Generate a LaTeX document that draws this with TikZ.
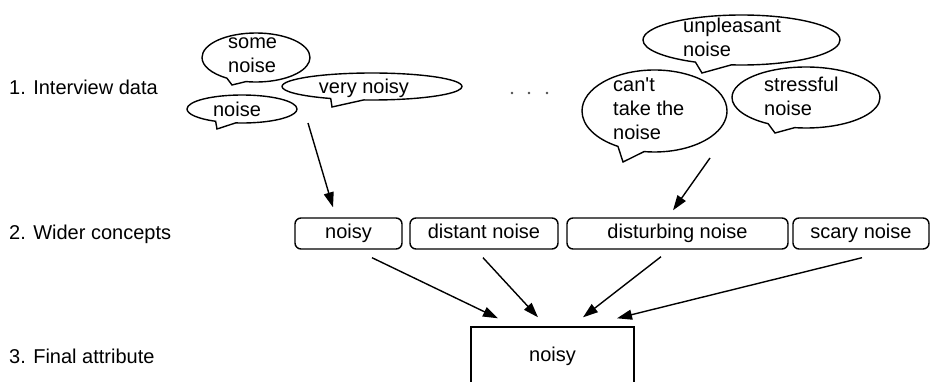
\documentclass[tikz,border=0pt]{standalone}
\usepackage{fontspec}
\setmainfont{Liberation Sans}
\usetikzlibrary{shapes.callouts,arrows.meta}
\begin{document}
\begin{tikzpicture}[x=1pt,y=-1pt,
  every node/.style={font=\fontsize{20}{24}\selectfont},
  bubble/.style={ellipse callout, draw, fill=white, line width=1.4pt, inner sep=0pt, callout pointer arc=22},
  txt/.style={inner sep=0pt, align=left},
  concept/.style={draw, rounded corners=6pt, line width=1.4pt, inner sep=0pt, minimum height=31pt, text height=14pt, text depth=4pt},
  finalbox/.style={draw, line width=1.4pt, inner sep=0pt, minimum width=163pt, minimum height=58pt},
  arr/.style={line width=1.4pt, -{Triangle[length=15pt,width=10pt]}},
  dotmark/.style={fill=black!70}]
\useasboundingbox (0,0) rectangle (931,382);
\clip (0,0) rectangle (931,382);

% level labels
\node[txt, anchor=west] (l1) at (9,87) {1. Interview data};
\node[txt, anchor=west] (l2) at (9,234) {2. Wider concepts};
\node[txt, anchor=west] (l3) at (9,356) {3. Final attribute};

% speech bubbles (left group)
\node[bubble, minimum width=108pt, minimum height=49pt, callout absolute pointer={(232,85)}] (bs) at (256,57.5) {};
\node[txt, anchor=west] (ts) at (228,55) {some\\noise};
\node[bubble, minimum width=180pt, minimum height=27pt, callout absolute pointer={(332,107)}] (bv) at (372,86.5) {};
\node[txt] (tv) at (364,88) {very noisy};
\node[bubble, minimum width=110pt, minimum height=28pt, callout absolute pointer={(217,129)}] (bn) at (242,109) {};
\node[txt] (tn) at (237,109) {noise};

% dots
\fill[dotmark] (512,93) circle (1.4);
\fill[dotmark] (529,93) circle (1.4);
\fill[dotmark] (547,93) circle (1.4);

% speech bubbles (right group)
\node[bubble, minimum width=197pt, minimum height=50pt, callout absolute pointer={(702,73)}] (bu) at (741.5,40) {};
\node[txt, anchor=west] (tu) at (683,37) {unpleasant\\noise};
\node[bubble, minimum width=145pt, minimum height=82pt, callout absolute pointer={(623,162)}] (bc) at (654.5,111) {};
\node[txt, anchor=west] (tc) at (613,109) {can\textquotesingle t\\take the\\noise};
\node[bubble, minimum width=148pt, minimum height=61pt, callout absolute pointer={(775,133)}] (bt) at (806,97.5) {};
\node[txt, anchor=west] (tt) at (764,96) {stressful\\noise};

% wider concepts
\node[concept, minimum width=107pt] (c1) at (348.5,233.5) {noisy};
\node[concept, minimum width=148pt] (c2) at (484,233.5) {distant noise};
\node[concept, minimum width=221pt] (c3) at (677.5,233.5) {disturbing noise};
\node[concept, minimum width=136pt] (c4) at (861,233.5) {scary noise};

% final attribute
\node[finalbox] (fin) at (552.5,356) {noisy};

% free starts of the upper arrows
\coordinate (s1) at (308,123);
\coordinate (s2) at (710,158);

\draw[arr] (s1) -- ([xshift=-15.5pt,yshift=10pt]c1.north);
\draw[arr] (s2) -- ([xshift=-4.5pt,yshift=7pt]c3.north);

\draw[arr] ([xshift=23.5pt,yshift=-8pt]c1.south) -- ([xshift=-54.5pt,yshift=8pt]fin.north);
\draw[arr] ([xshift=-1pt,yshift=-8pt]c2.south) -- ([xshift=-14.5pt,yshift=9pt]fin.north);
\draw[arr] ([xshift=-16.5pt,yshift=-7pt]c3.south) -- ([xshift=30.5pt,yshift=9pt]fin.north);
\draw[arr] ([xshift=1pt,yshift=-8pt]c4.south) -- ([xshift=64.5pt,yshift=8pt]fin.north);
\end{tikzpicture}
\end{document}
